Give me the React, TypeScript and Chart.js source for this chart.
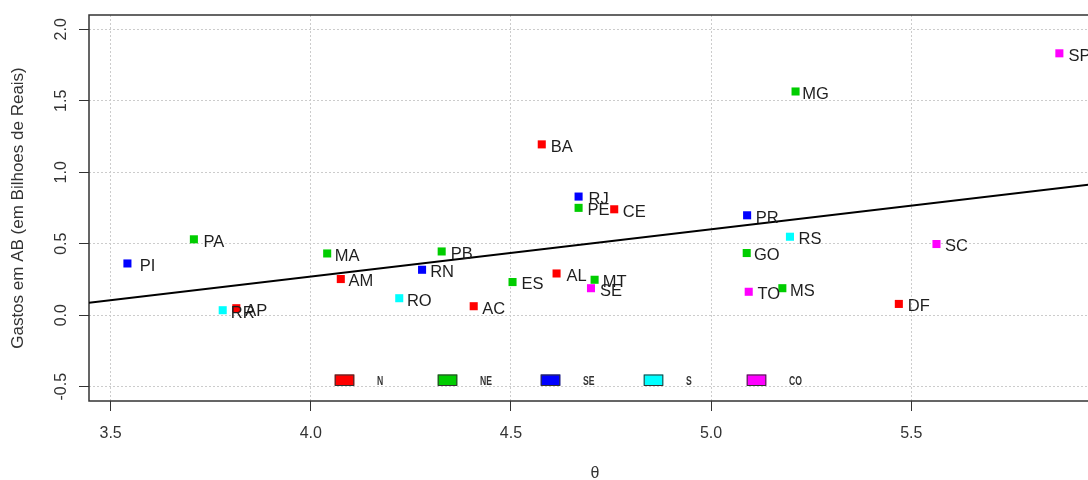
import React, { useEffect, useRef } from 'react';
import { Chart, registerables } from 'chart.js';

Chart.register(...registerables);

// ---- data ----
const stateCodes = ['PI', 'PA', 'RR', 'AP', 'MA', 'AM', 'RO', 'RN', 'PB', 'AC', 'ES', 'BA', 'AL', 'RJ', 'PE', 'CE', 'MT', 'SE', 'PR', 'RS', 'GO', 'TO', 'MS', 'MG', 'SC', 'DF', 'SP'];
const thetaValues = [3.542, 3.708, 3.780, 3.814, 4.041, 4.075, 4.221, 4.278, 4.327, 4.407, 4.504, 4.577, 4.614, 4.669, 4.669, 4.758, 4.709, 4.700, 5.090, 5.197, 5.089, 5.094, 5.178, 5.211, 5.563, 5.469, 5.870];
const spendValues = [0.362, 0.531, 0.035, 0.049, 0.432, 0.253, 0.119, 0.318, 0.446, 0.063, 0.232, 1.195, 0.292, 0.830, 0.751, 0.741, 0.248, 0.189, 0.699, 0.549, 0.435, 0.164, 0.189, 1.565, 0.498, 0.079, 1.832];
const regionOfState = ['SE', 'NE', 'S', 'N', 'NE', 'N', 'S', 'SE', 'NE', 'N', 'NE', 'N', 'N', 'SE', 'NE', 'N', 'NE', 'CO', 'SE', 'S', 'NE', 'CO', 'NE', 'NE', 'CO', 'N', 'CO'];

const regionNames = ['N', 'NE', 'SE', 'S', 'CO'];
const regionColors = ['#FF0000', '#00CD00', '#0000FF', '#00FFFF', '#FF00FF'];

// fitted regression line end points
const fitX = [3.446, 5.974];
const fitY = [0.087, 0.923];

const xTicks = [3.5, 4.0, 4.5, 5.0, 5.5];
const xTickLabels = ['3.5', '4.0', '4.5', '5.0', '5.5'];
const yTicks = [-0.5, 0.0, 0.5, 1.0, 1.5, 2.0];
const yTickLabels = ['-0.5', '0.0', '0.5', '1.0', '1.5', '2.0'];

const xLimits = [3.446, 5.974];
const yLimits = [-0.6, 2.1];

const xTitle = 'θ';
const yTitle = 'Gastos em AB (em Bilhoes de Reais)';
const labelShift = 0.05;

const FONT = "'Liberation Sans', Arial, sans-serif";

const decorPlugin = {
  id: 'decor',
  beforeDatasetsDraw(chart: any) {
    const { ctx, chartArea } = chart;
    ctx.save();
    ctx.strokeStyle = '#333333';
    ctx.lineWidth = 1.5;
    ctx.strokeRect(chartArea.left, chartArea.top, chartArea.right - chartArea.left, chartArea.bottom - chartArea.top);
    ctx.restore();
  },
  afterDatasetsDraw(chart: any) {
    const { ctx, chartArea } = chart;
    const xs = chart.scales.x;
    const ys = chart.scales.y;
    // y tick labels (rotated)
    ctx.save();
    ctx.fillStyle = '#333333';
    ctx.font = `16px ${FONT}`;
    ctx.textAlign = 'center';
    ctx.textBaseline = 'alphabetic';
    yTicks.forEach((v, i) => {
      const py = ys.getPixelForValue(v);
      ctx.save();
      ctx.translate(65.5, py);
      ctx.rotate(-Math.PI / 2);
      ctx.fillText(yTickLabels[i], 0, 0);
      ctx.restore();
    });
    ctx.restore();

    // point labels
    ctx.save();
    ctx.fillStyle = '#1e1e1e';
    ctx.font = `16.5px ${FONT}`;
    ctx.textAlign = 'center';
    ctx.textBaseline = 'alphabetic';
    stateCodes.forEach((code, i) => {
      const px = xs.getPixelForValue(thetaValues[i] + labelShift);
      const py = ys.getPixelForValue(spendValues[i]);
      ctx.fillText(code, px, py + 7.4);
    });
    ctx.restore();

    // legend
    ctx.save();
    const legendY = 380;
    regionNames.forEach((name, i) => {
      const left = chartArea.left + 245.7 + i * 103;
      ctx.fillStyle = regionColors[i];
      ctx.fillRect(left, legendY - 5.5, 19.6, 11);
      ctx.strokeStyle = '#333333';
      ctx.lineWidth = 1;
      ctx.strokeRect(left + 0.5, legendY - 5, 18.6, 10.5);
      ctx.save();
      ctx.fillStyle = '#333333';
      ctx.font = `bold 12px ${FONT}`;
      ctx.textAlign = 'left';
      ctx.textBaseline = 'alphabetic';
      ctx.translate(left + 42.3, legendY + 4.5);
      ctx.scale(0.72, 1);
      ctx.fillText(name, 0, 0);
      ctx.restore();
    });
    ctx.restore();
  },
};

export default function App() {
  const canvasRef = useRef<HTMLCanvasElement | null>(null);

  useEffect(() => {
    const canvas = canvasRef.current;
    if (!canvas) return;

    const datasets: any[] = regionNames.map((r, ri) => ({
      type: 'scatter',
      label: r,
      data: stateCodes
        .map((_, i) => i)
        .filter((i) => regionOfState[i] === r)
        .map((i) => ({ x: thetaValues[i], y: spendValues[i] })),
      pointStyle: 'rect',
      pointRadius: 5.7,
      pointBorderWidth: 0,
      backgroundColor: regionColors[ri],
      borderColor: regionColors[ri],
    }));

    datasets.push({
      type: 'line',
      label: 'fit',
      data: fitX.map((x, i) => ({ x, y: fitY[i] })),
      borderColor: '#000000',
      borderWidth: 2,
      pointRadius: 0,
      fill: false,
    });

    const chart = new Chart(canvas, {
      type: 'scatter',
      data: { datasets },
      options: {
        animation: false,
        responsive: false,
        devicePixelRatio: 1,
        layout: { padding: { top: 15, right: 19, left: 0, bottom: 0 } },
        plugins: { legend: { display: false }, tooltip: { enabled: false } },
        scales: {
          x: {
            type: 'linear',
            min: xLimits[0],
            max: xLimits[1],
            afterBuildTicks: (scale: any) => {
              scale.ticks = xTicks.map((v) => ({ value: v }));
            },
            afterFit: (scale: any) => {
              scale.height = 79;
            },
            ticks: {
              callback: (v: any) => {
                const idx = xTicks.indexOf(Number(v));
                return idx >= 0 ? xTickLabels[idx] : '';
              },
              color: '#333333',
              font: { family: FONT, size: 16 },
              padding: 13,
              maxRotation: 0,
              minRotation: 0,
              autoSkip: false,
            },
            grid: {
              color: '#cccccc',
              lineWidth: 1,
              tickLength: 10,
              tickColor: '#333333',
              tickWidth: 1,
              tickBorderDash: [],
            },
            border: { display: false, dash: [2, 2] },
            title: {
              display: true,
              text: xTitle,
              color: '#333333',
              font: { family: FONT, size: 16 },
              padding: { top: 0, bottom: -3 },
            },
          },
          y: {
            type: 'linear',
            min: yLimits[0],
            max: yLimits[1],
            afterBuildTicks: (scale: any) => {
              scale.ticks = yTicks.map((v) => ({ value: v }));
            },
            afterFit: (scale: any) => {
              scale.width = 89;
            },
            ticks: { display: false },
            grid: {
              color: '#cccccc',
              lineWidth: 1,
              tickLength: 10,
              tickColor: '#333333',
              tickWidth: 1,
              tickBorderDash: [],
            },
            border: { display: false, dash: [2, 2] },
            title: {
              display: true,
              text: yTitle,
              color: '#333333',
              font: { family: FONT, size: 17 },
              padding: { top: 8, bottom: 0 },
            },
          },
        },
      },
      plugins: [decorPlugin],
    } as any);

    return () => chart.destroy();
  }, []);

  return (
    <div style={{ position: 'absolute', left: 0, top: 0, width: 1088, height: 480, overflow: 'hidden', background: '#ffffff' }}>
      <canvas ref={canvasRef} width={1120} height={480} style={{ display: 'block' }} />
    </div>
  );
}
